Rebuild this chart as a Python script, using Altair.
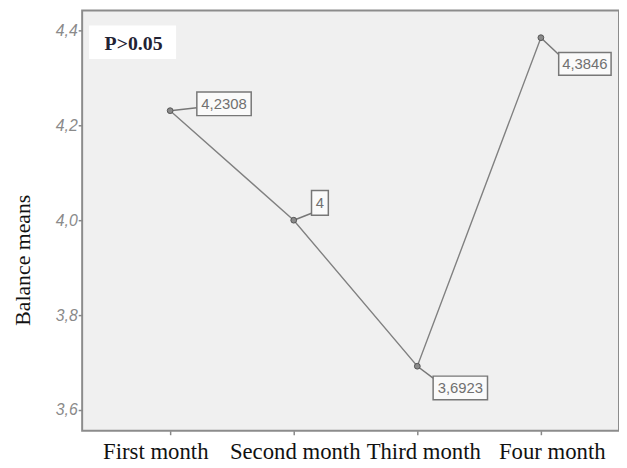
import altair as alt
import pandas as pd

months = ["First month", "Second month", "Third month", "Four month"]
means = [4.2308, 4.0, 3.6923, 4.3846]
labels = ["4,2308", "4", "3,6923", "4,3846"]
y_ticks = [3.6, 3.8, 4.0, 4.2, 4.4]

df = pd.DataFrame({"month": months, "mean": means, "label": labels})

# label box layout (pixel offsets from each point): box dx, dy, w, h, leader end dx, dy
box_layout = [
    (54.5, -7, 55, 24, 27, -3),
    (26.5, -17.5, 17, 25, 18, -7),
    (43.5, 22, 55, 24, 16, 12),
    (44.5, 26.5, 53, 23, 18, 17),
]

label_offset = {
    "condition": [
        {"test": "datum.value == 'First month'", "value": -15},
        {"test": "datum.value == 'Third month'", "value": 6},
        {"test": "datum.value == 'Four month'", "value": 11},
    ],
    "value": 1,
}

x_enc = alt.X("month:N", sort=months, scale=alt.Scale(type="point", domain=months, range=[89, 464], padding=0),
              axis=alt.Axis(title=None, labelFont="Liberation Serif", labelFontSize=23, labelColor="#111",
                            labelAngle=0, ticks=True, tickSize=4, tickColor="#888", tickWidth=1.5,
                            domain=False, grid=False, labelPadding=6, labelOffset=label_offset,
                            labelOverlap=False))
y_enc = alt.Y("mean:Q", scale=alt.Scale(domain=[3.5563, 4.4417], nice=False, zero=False),
              axis=alt.Axis(title="Balance means", values=y_ticks, format=".1f",
                            labelExpr="replace(format(datum.value, '.1f'), '.', ',')",
                            labelFont="Liberation Sans", labelFontStyle="italic", labelFontSize=16,
                            labelColor="#8a8a8a", tickSize=4, tickColor="#888", tickWidth=1.5,
                            labelPadding=1, domain=False, grid=False,
                            titleFont="Liberation Serif", titleFontSize=22, titleFontWeight="normal",
                            titleColor="#111", titleX=-60, titleY=252, titleAngle=-90, titleBaseline="middle"))

base = alt.Chart(df)
line = base.mark_line(color="#808080", strokeWidth=1.4).encode(x=x_enc, y=y_enc)
pts = base.mark_point(filled=True, size=34, color="#8a8a8a", stroke="#555", strokeWidth=1, opacity=1).encode(
    x=alt.X("month:N", sort=months), y="mean:Q")

layers = [line]
for m, (bdx, bdy, bw, bh, ldx, ldy) in zip(months, box_layout):
    sub = base.transform_filter(alt.datum.month == m)
    leader = sub.mark_rule(color="#777", strokeWidth=1.5, x2Offset=ldx, y2Offset=ldy).encode(
        x=alt.X("month:N", sort=months), x2="month:N", y="mean:Q", y2="mean:Q")
    box = sub.mark_rect(width=bw, height=bh, xOffset=bdx, yOffset=bdy, fill="#fafafa",
                        stroke="#777", strokeWidth=1.5).encode(x=alt.X("month:N", sort=months), y="mean:Q")
    txt = sub.mark_text(dx=bdx, dy=bdy, font="Liberation Sans", fontSize=15, color="#707070",
                        baseline="middle", align="center").encode(
        x=alt.X("month:N", sort=months), y="mean:Q", text="label:N")
    layers += [leader, box, txt]
layers.append(pts)

pbox = alt.Chart(pd.DataFrame({"t": ["P>0.05"]})).mark_rect(fill="white").encode(
    x=alt.value(7), x2=alt.value(95), y=alt.value(15), y2=alt.value(49))
ptxt = alt.Chart(pd.DataFrame({"t": ["P>0.05"]})).mark_text(
    font="Liberation Serif", fontSize=20, fontWeight="bold", color="#222233", align="center", baseline="middle").encode(
    x=alt.value(52), y=alt.value(34), text="t:N")
layers += [pbox, ptxt]

chart = alt.layer(*layers).properties(
    width=543, height=425,
    autosize=alt.AutoSizeParams(type="none"),
    padding={"left": 75, "top": 0, "right": 0, "bottom": 33},
    background="white",
).configure_view(fill="#f0f0f0", stroke="#8c8c8c", strokeWidth=2)

chart.save("out.html", embed_options={"renderer": "svg", "actions": False})
